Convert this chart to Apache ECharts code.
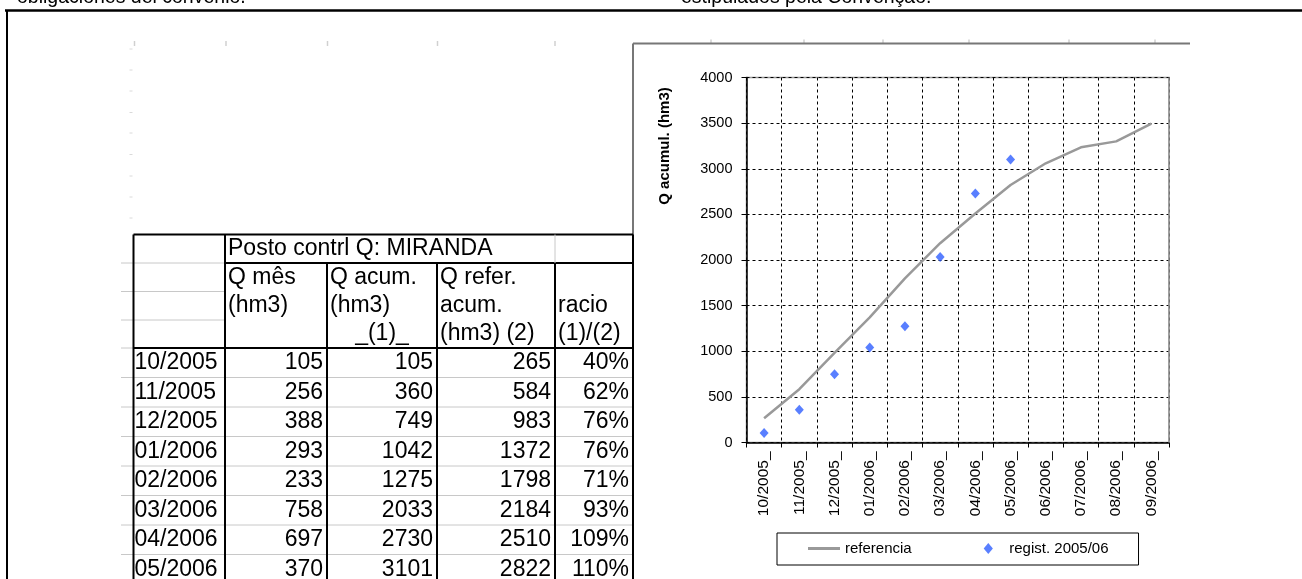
<!DOCTYPE html>
<html>
<head>
<meta charset="utf-8">
<script src="https://cdn.jsdelivr.net/npm/echarts@6/dist/echarts.min.js"></script>
<style>
  html, body { margin: 0; padding: 0; background: #fff; }
  #chart { width: 1302px; height: 579px; }
</style>
</head>
<body>
<div id="chart"></div>
<script>
// ---- data ----
const tableMonths = ['10/2005', '11/2005', '12/2005', '01/2006', '02/2006', '03/2006', '04/2006', '05/2006'];
const qMes = [105, 256, 388, 293, 233, 758, 697, 370];
const qAcum = [105, 360, 749, 1042, 1275, 2033, 2730, 3101];
const racioPct = [40, 62, 76, 76, 71, 93, 109, 110];

const chartMonths = ['10/2005', '11/2005', '12/2005', '01/2006', '02/2006', '03/2006',
                     '04/2006', '05/2006', '06/2006', '07/2006', '08/2006', '09/2006'];
const referencia = [265, 584, 983, 1372, 1798, 2184, 2510, 2822, 3060, 3235, 3300, 3495];
const yTicks = { min: 0, max: 4000, step: 500 };

const stationTitle = 'Posto contrl Q: MIRANDA';
const headerCols = [
  ['Q mês', '(hm3)', ''],
  ['Q acum.', '(hm3)', '_(1)_'],
  ['Q refer.', 'acum.', '(hm3) (2)'],
  ['', 'racio', '(1)/(2)']
];
const topNotes = ['obligaciones del convenio.', 'estipulados pela Convenção.'];

// ---- drawing helpers ----
const FONT = "'Liberation Sans', Arial, Helvetica, sans-serif";
const GRID_GRAY = '#c8c8c8';

function text(x, y, str, align, size, extra) {
  return {
    type: 'text', x: x, y: y, silent: true,
    style: Object.assign({
      text: str, fill: '#000', fontSize: size, fontFamily: FONT,
      align: align, textAlign: align, verticalAlign: 'middle', textVerticalAlign: 'middle'
    }, extra || {})
  };
}
function line(x1, y1, x2, y2, color, w, z) {
  return {
    type: 'line', silent: true, z: z || 0,
    shape: { x1: x1, y1: y1, x2: x2, y2: y2 },
    style: { stroke: color, lineWidth: w }
  };
}

// ---- spreadsheet table (sheet layout) ----
const colX = [133.5, 225, 327, 437, 555, 633];
const headY = [234.5, 263, 291.5, 320, 348];
const rowH = 29.5;
const tableBottom = 579;
const FS = 23;

const g = [];

// page frame and notes above it
g.push(text(17, -2, topNotes[0], 'left', 19.5));
g.push(text(681, -2, topNotes[1], 'left', 19.5));
g.push(line(5, 10.5, 1302, 10.5, '#000', 2.5));
g.push(line(7, 10, 7, 579, '#000', 2));

// faint sheet gridline marks
[134.5, 226, 327.5, 437.5, 555].forEach(x => g.push(line(x, 41, x, 46, '#d0d0d0', 1.5)));
[711, 804, 883, 969, 1069, 1155].forEach(x => g.push(line(x, 39.5, x, 43.5, '#d0d0d0', 1.5)));
[49, 70, 91, 112.5, 133, 154.5, 176, 197, 218].forEach(y => g.push(line(129.5, y, 132.5, y, '#dadada', 1)));

// chart object frame
g.push(line(633, 43.5, 1190, 43.5, '#777', 2));
g.push(line(633, 43.5, 633, 579, '#777', 2));

// row boundaries
const rowLines = headY.slice(1, 4).concat(qMes.map((_, i) => headY[4] + rowH * (i + 1)));
rowLines.forEach(y => g.push(line(121, y, colX[0], y, GRID_GRAY, 1)));
headY.slice(1, 4).forEach(y => g.push(line(colX[0], y, colX[1], y, GRID_GRAY, 1)));
qMes.forEach((_, i) => {
  const y = headY[4] + rowH * (i + 1);
  g.push(line(colX[0], y, colX[5], y, GRID_GRAY, 1));
});
g.push(line(121, headY[4], colX[0], headY[4], GRID_GRAY, 1));

// table borders
g.push(line(colX[0], headY[0], colX[5], headY[0], '#000', 2));
g.push(line(colX[1], headY[1], colX[5], headY[1], '#000', 2));
g.push(line(colX[0], headY[4], colX[5], headY[4], '#000', 2));
g.push(line(colX[4], headY[0], colX[4], headY[1], GRID_GRAY, 1));
g.push(line(colX[0], headY[0], colX[0], tableBottom, '#000', 2));
g.push(line(colX[1], headY[0], colX[1], tableBottom, '#000', 2));
[2, 3, 4].forEach(c => g.push(line(colX[c], headY[1], colX[c], tableBottom, '#000', 2)));
g.push(line(colX[5], headY[0], colX[5], tableBottom, '#000', 2));

// header text
g.push(text(colX[1] + 3, (headY[0] + headY[1]) / 2, stationTitle, 'left', FS));
headerCols.forEach((lines, c) => {
  lines.forEach((s, r) => {
    if (!s) return;
    const y = (headY[r + 1] + headY[r + 2]) / 2;
    if (s === '_(1)_') {
      g.push(text((colX[c + 1] + colX[c + 2]) / 2, y, s, 'center', FS));
    } else {
      g.push(text(colX[c + 1] + 3, y, s, 'left', FS));
    }
  });
});

// body text
tableMonths.forEach((m, i) => {
  const y = headY[4] + rowH * (i + 0.5);
  g.push(text(colX[0] + 1, y, m, 'left', FS));
  g.push(text(colX[2] - 4, y, String(qMes[i]), 'right', FS));
  g.push(text(colX[3] - 4, y, String(qAcum[i]), 'right', FS));
  g.push(text(colX[4] - 4, y, String(referencia[i]), 'right', FS));
  g.push(text(colX[5] - 4, y, racioPct[i] + '%', 'right', FS));
});

// value axis title
g.push({
  type: 'text', x: 665, y: 146, rotation: Math.PI / 2, silent: true,
  style: {
    text: 'Q acumul. (hm3)', fill: '#000', fontSize: 15, fontWeight: 'bold', fontFamily: FONT,
    align: 'center', textAlign: 'center', verticalAlign: 'middle', textVerticalAlign: 'middle'
  }
});
// plot area right edge
g.push(line(1169, 77.5, 1169, 442.5, '#999', 1.5, 20));

const chart = echarts.init(document.getElementById('chart'), null, { renderer: 'canvas' });
chart.setOption({
  animation: false,
  backgroundColor: '#fff',
  textStyle: { fontFamily: FONT },
  grid: {
    left: 746.5, top: 77.5, width: 422.5, height: 365,
    show: true, backgroundColor: '#fff', borderColor: '#999', borderWidth: 1.5
  },
  xAxis: {
    type: 'category',
    data: chartMonths,
    boundaryGap: true,
    axisLine: { lineStyle: { color: '#000', width: 1.5 } },
    axisTick: { show: true, interval: 0, length: 5, lineStyle: { color: '#000', width: 1 } },
    axisLabel: {
      interval: 0, rotate: 90, fontSize: 15.5, color: '#000', margin: 9,
      formatter: v => v + '_'
    },
    splitLine: { show: true, interval: 0, lineStyle: { color: '#000', width: 1, type: [3, 3] } }
  },
  yAxis: {
    type: 'value',
    min: yTicks.min, max: yTicks.max, interval: yTicks.step,
    axisLine: { show: true, lineStyle: { color: '#000', width: 1.5 } },
    axisTick: { show: true, length: 5, lineStyle: { color: '#000', width: 1 } },
    axisLabel: { fontSize: 14.5, color: '#000', margin: 14, formatter: v => String(v) },
    splitLine: { show: true, lineStyle: { color: '#000', width: 1, type: [3, 3] } }
  },
  legend: {
    left: 777, top: 533,
    padding: [8, 30, 9, 31],
    itemGap: 72,
    itemWidth: 32, itemHeight: 11,
    borderColor: '#000', borderWidth: 1,
    backgroundColor: '#fff',
    textStyle: { fontSize: 15, color: '#000', fontFamily: FONT },
    data: [
      { name: 'referencia', icon: 'path://M0,0h32v3h-32z' },
      { name: 'regist. 2005/06', icon: 'path://M5,0L10,6L5,12L0,6Z' }
    ]
  },
  series: [
    {
      name: 'referencia',
      type: 'line',
      data: referencia,
      symbol: 'none',
      lineStyle: { color: '#999', width: 2.5 },
      itemStyle: { color: '#999' },
      z: 3
    },
    {
      name: 'regist. 2005/06',
      type: 'scatter',
      data: qAcum,
      symbol: 'diamond',
      symbolSize: [9, 10],
      itemStyle: { color: '#2f5fff' },
      z: 4
    }
  ],
  graphic: { elements: g }
});
</script>
</body>
</html>
